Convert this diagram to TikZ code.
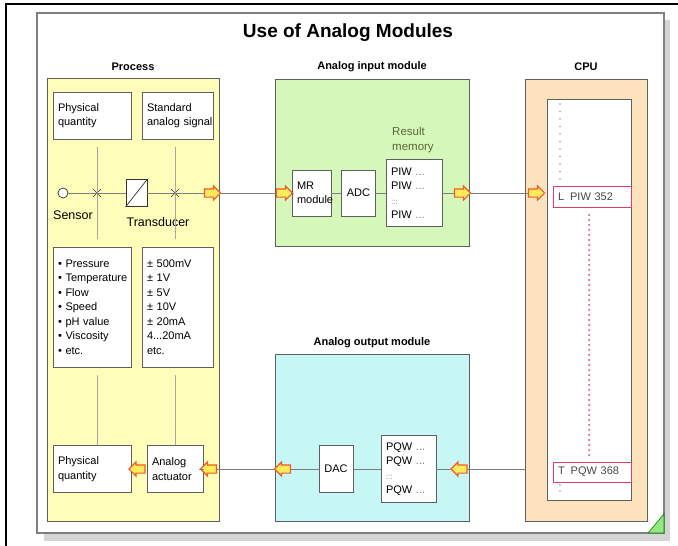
\documentclass[tikz,border=0pt]{standalone}
\usepackage{fontspec}
\setmainfont{Liberation Sans}
\usetikzlibrary{shapes.arrows,shapes.misc}

\definecolor{procyellow}{RGB}{255,253,186}
\definecolor{ingreen}{RGB}{214,247,186}
\definecolor{outcyan}{RGB}{198,247,245}
\definecolor{cpuorange}{RGB}{253,226,190}
\definecolor{framegray}{RGB}{95,95,95}
\definecolor{linegray}{RGB}{125,125,125}
\definecolor{arrowyellow}{RGB}{255,236,90}
\definecolor{arroworange}{RGB}{240,90,45}
\definecolor{instrred}{RGB}{226,60,100}
\definecolor{textgray}{RGB}{70,70,70}
\definecolor{memgreen}{RGB}{90,105,60}
\definecolor{shadowgray}{RGB}{212,212,212}
\definecolor{trigreen}{RGB}{150,230,130}

\hyphenpenalty=10000
\exhyphenpenalty=10000

\newcommand{\dts}{\textcolor{gray}{...}}
\newcommand{\vdts}{{\fontsize{8}{8}\selectfont\textcolor{gray}{:::}}}

\begin{document}
\begin{tikzpicture}
		[x=1pt,y=-1pt,line cap=round,
		%Styles
		module/.style={draw=framegray,line width=0.9pt},
		box/.style={draw=framegray,fill=white,line width=0.8pt,align=left,inner xsep=5pt,inner ysep=2pt,font=\fontsize{11}{14.5}\selectfont},
		heading/.style={font=\fontsize{11}{13}\selectfont\bfseries},
		sig arrow/.style={single arrow,draw=arroworange,fill=arrowyellow,line width=1.1pt,minimum height=16pt,minimum width=13pt,single arrow head extend=3pt,inner xsep=0pt,inner ysep=3.5pt},
		left arrow/.style={sig arrow,shape border rotate=180},
		conn/.style={draw=linegray,line width=1pt},
		thin line/.style={draw=gray!70,line width=0.5pt},
		cross/.style={cross out,draw=black!80,line width=0.7pt,minimum size=7pt,inner sep=0pt},
		instr/.style={box,draw=instrred,text=textgray,text width=68pt,minimum height=21pt},
		big label/.style={font=\fontsize{12.5}{14}\selectfont}
		]
		
		%Colors
		\colorlet{dotgray}{gray!80}
		
		\useasboundingbox (0,0) rectangle (678,546);
		
		%Slide
		\fill[shadowgray] (44,20) rectangle (670,541);
		\draw[fill=white,draw=gray,line width=1.2pt] (37,13) rectangle (664,533);
		\filldraw[fill=trigreen,draw=green!50!black,line width=0.6pt] (648,533) -- (664,533) -- (664,514) -- cycle;
		\draw[black,line width=2.5pt] (6,546) -- (6,4) -- (678,4);
		
		\node[font=\fontsize{19}{22}\selectfont\bfseries] (title) at (348,33) {Use of Analog Modules};
		
		%Modules
		\node[module,fill=procyellow,minimum width=172pt,minimum height=443pt] (process) at (133,299.5) {};
		\node[module,fill=ingreen,minimum width=194pt,minimum height=167pt] (aim) at (372,162.5) {};
		\node[module,fill=outcyan,minimum width=194pt,minimum height=167pt] (aom) at (372,437.5) {};
		\node[module,fill=cpuorange,minimum width=122pt,minimum height=442pt] (cpu) at (586,300) {};
		\node[module,fill=white,minimum width=84pt,minimum height=401pt] (cpumem) at (589,300) {};
		
		\node[heading] (processlbl) at (133,67) {Process};
		\node[heading] (aimlbl) at (372,67) {Analog input module};
		\node[heading] (cpulbl) at (586,67) {CPU};
		\node[heading] (aomlbl) at (372,343) {Analog output module};
		
		%Process
		\node[box,text width=68pt,minimum height=47pt] (quantity) at (92,115.5) {Physical\\quantity};
		\node[box,text width=61pt,minimum height=47pt] (stdsignal) at (177.5,115.5) {Standard\\analog~signal};
		\node[box,text width=68pt,minimum height=120pt] (quantities) at (92,307)
			{\textbullet~Pressure\\\textbullet~Temperature\\\textbullet~Flow\\\textbullet~Speed\\\textbullet~pH value\\\textbullet~Viscosity\\\textbullet~etc.};
		\node[box,text width=61pt,minimum height=120pt] (ranges) at (177.5,307)
			{± 500mV\\± 1V\\± 5V\\± 10V\\± 20mA\\4...20mA\\etc.};
		\node[box,text width=68pt,minimum height=47pt] (quantity2) at (92,469) {Physical\\quantity};
		\node[box,text width=46pt,minimum height=47pt] (actuator) at (175,469) {Analog\\actuator};
		
		\node[circle,draw=black!80,fill=white,line width=0.7pt,minimum size=10pt,inner sep=0pt] (sensor) at (63,193) {};
		\node[cross] (x1) at (97,193) {};
		\node[cross] (x2) at (175,193) {};
		\node[big label] (sensorlbl) at (73,215) {Sensor};
		\node[big label] (translbl) at (158,222) {Transducer};
		
		\draw[thin line] (x1) ++(0,-46) -- ++(0,92);
		\draw[thin line] (x2) ++(0,-46) -- ++(0,92);
		\draw[thin line] (x1 |- quantities.south) ++(0,8) -- (x1 |- quantity2.north);
		\draw[thin line] (x2 |- ranges.south) ++(0,8) -- (x2 |- actuator.north);
		
		%Input module
		\node[box,text width=29pt,minimum height=46pt] (mr) at (311.5,193) {MR\\module};
		\node[box,align=center,minimum width=33pt,minimum height=46pt] (adc) at (358.5,193) {ADC};
		\node[box,text width=46pt,minimum height=67pt] (piw) at (414,193)
			{PIW \dts\\PIW \dts\\\vdts\\PIW \dts};
		\node[font=\fontsize{11.5}{14.5}\selectfont,text=memgreen,align=left,anchor=north west,inner sep=0pt] (resmem) at (392,127) {Result\\memory};
		
		%Output module
		\node[box,align=center,minimum width=34pt,minimum height=47pt] (dac) at (336,469) {DAC};
		\node[box,text width=45pt,minimum height=67pt] (pqw) at (408.5,469)
			{PQW \dts\\PQW \dts\\\vdts\\PQW \dts};
		
		%CPU
		\node[instr] (load) at (592,196.5) {L\hspace{6pt}PIW 352};
		\node[instr,minimum height=20pt] (transfer) at (592,472) {T\hspace{6pt}PQW 368};
		\draw[dotgray,line width=1.6pt,dash pattern=on 0pt off 7.5pt] (560,104) -- (560,180);
		\draw[dotgray,line width=1.6pt,dash pattern=on 0pt off 6pt] (560,485) -- (560,491);
		\draw[instrred,line width=2pt,dash pattern=on 0pt off 5pt] (589,215) -- (589,457);
		
		%Arrows
		\node[sig arrow] (a1) at (210.5,193) {};
		\node[sig arrow] (a2) at (282.5,193) {};
		\node[sig arrow] (a3) at (460.5,193) {};
		\node[sig arrow] (a4) at (534.5,193) {};
		\node[left arrow] (b1) at (461,469) {};
		\node[left arrow] (b2) at (284.5,469) {};
		\node[left arrow] (b3) at (210.5,469) {};
		\node[left arrow] (b4) at (139,469) {};
		
		%Signal lines
		\node[draw=black!80,fill=white,line width=0.7pt,minimum width=21pt,minimum height=27pt] (transducer) at (136.5,193) {};
		\draw[black!80,line width=0.7pt] (transducer.south west) -- (transducer.north east);
		\path[conn] (sensor) edge (transducer)
				(transducer) edge (a1)
				(a1) edge (a2)
				(a2) edge (mr)
				(mr) edge (adc)
				(adc) edge (piw)
				(piw) edge (a3)
				(a3) edge (a4);
		\coordinate (cpuout) at (cpu.west |- b1);
		\path[conn] (cpuout) edge (b1)
				(b1) edge (pqw)
				(pqw) edge (dac)
				(dac) edge (b2)
				(b2) edge (b3)
				(b3) edge (actuator);
	\end{tikzpicture}
\end{document}
